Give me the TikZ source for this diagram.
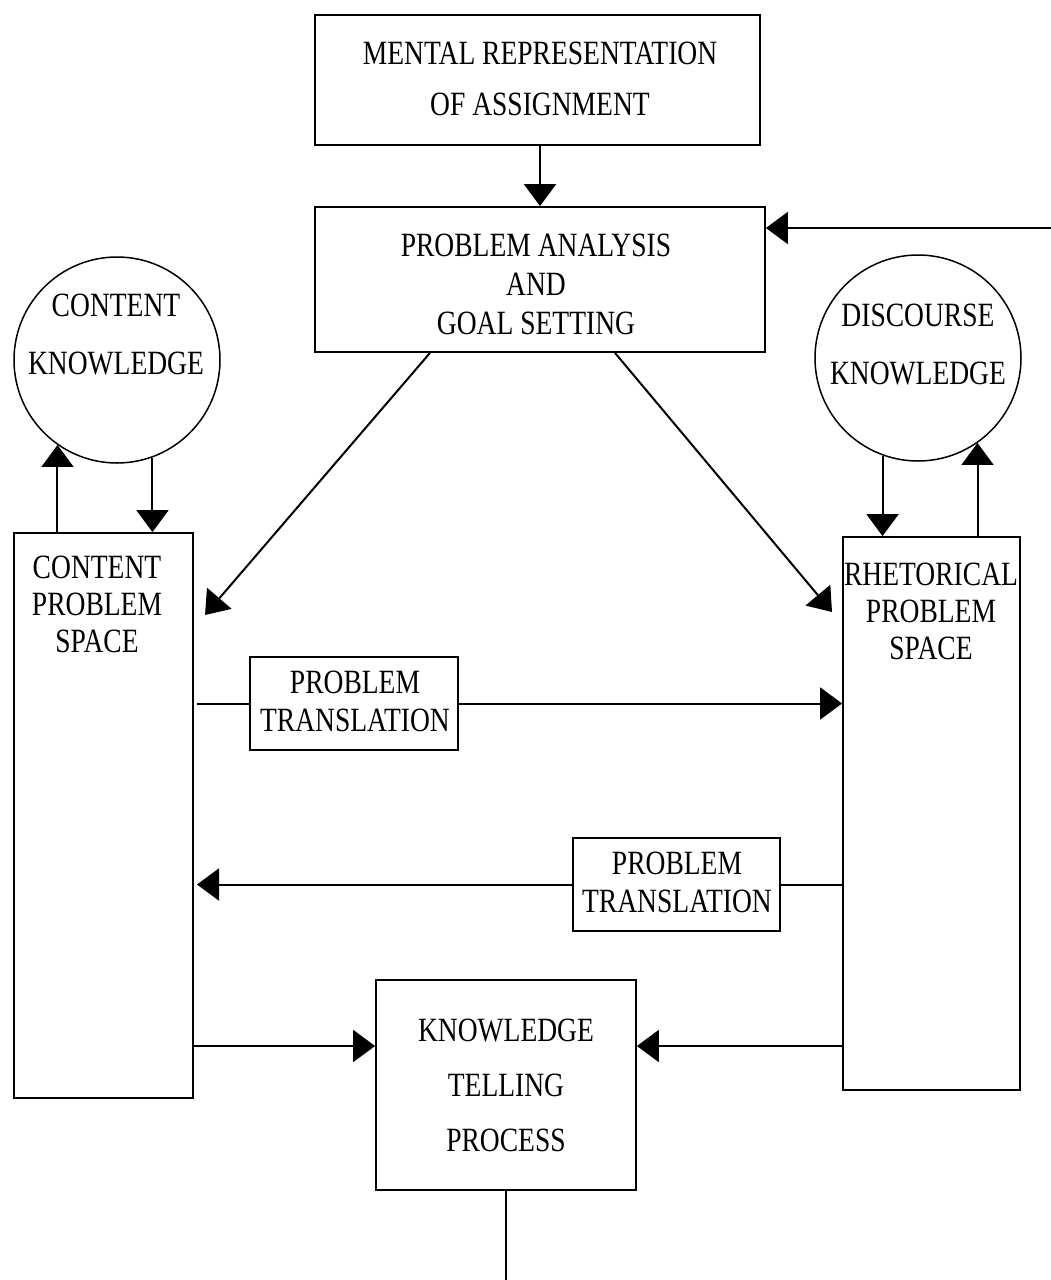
\documentclass[tikz,border=0pt]{standalone}
\usepackage{fontspec}
\setmainfont[FakeStretch=0.81]{Liberation Serif}
\usetikzlibrary{arrows.meta,calc}
\tikzset{
  box/.style={draw,line width=1.8pt,rectangle,inner sep=0pt},
  ring/.style={draw,line width=1.5pt,circle,inner sep=0pt,minimum size=206pt},
  txt/.style={align=center,inner sep=0pt},
  conn/.style={line width=2pt},
  arr/.style={conn,-{Triangle[width=32pt,length=22pt]}},
}
\begin{document}
\begin{tikzpicture}[x=1pt,y=-1pt,font=\fontsize{34}{38}\selectfont]
\useasboundingbox[fill=white] (0,0) rectangle (1051,1280);
% boxes
\node[box,minimum width=445pt,minimum height=130pt] (top) at (537.5,80) {};
\node[txt,font=\fontsize{34}{51}\selectfont] (toptxt) at (540,79) {MENTAL REPRESENTATION\\OF ASSIGNMENT};
\node[box,minimum width=450pt,minimum height=145pt] (pa) at (540,279.5) {};
\node[txt,font=\fontsize{34}{39}\selectfont] (patxt) at (536,284) {PROBLEM ANALYSIS\\AND\\GOAL SETTING};
\node[ring] (lcirc) at (117,360) {};
\node[txt,font=\fontsize{34}{58}\selectfont] (lctxt) at (116,334) {CONTENT\\KNOWLEDGE};
\node[ring] (rcirc) at (918,358) {};
\node[txt,font=\fontsize{34}{58}\selectfont] (rctxt) at (918,344) {DISCOURSE\\KNOWLEDGE};
\node[box,minimum width=179pt,minimum height=565pt] (lbox) at (103.5,815.5) {};
\node[txt,font=\fontsize{34}{37}\selectfont] (lbtxt) at (97,604) {CONTENT\\PROBLEM\\SPACE};
\node[box,minimum width=177pt,minimum height=553pt] (rbox) at (931.5,813.5) {};
\node[txt,font=\fontsize{34}{37}\selectfont] (rbtxt) at (931,611) {RHETORICAL\\PROBLEM\\SPACE};
\node[box,minimum width=208pt,minimum height=93pt] (pt1) at (354,703.5) {};
\node[txt] (pt1txt) at (355,701) {PROBLEM\\TRANSLATION};
\node[box,minimum width=207pt,minimum height=93pt] (pt2) at (676.5,884.5) {};
\node[txt] (pt2txt) at (677,882) {PROBLEM\\TRANSLATION};
\node[box,minimum width=260pt,minimum height=210pt] (kt) at (506,1085) {};
\node[txt,font=\fontsize{34}{55}\selectfont] (kttxt) at (506,1085) {KNOWLEDGE\\TELLING\\PROCESS};
% helper coordinates
\coordinate (fb) at (1051,228);
\coordinate (d1) at (205,615);
\coordinate (d2) at (832,612);
\coordinate (p1s) at (197,703.5);
\coordinate (p2e) at (197,884.5);
\coordinate (k1) at ([yshift=39pt]kt.west);
\coordinate (k2) at ([yshift=39pt]kt.east);
\coordinate (bot) at (506,1280);
% connectors
\draw[arr] (pa.north |- top.south) -- (pa.north);
\draw[arr] (fb) -- (fb -| pa.east);
\draw[arr] ([xshift=-110pt]pa.south) -- (d1);
\draw[arr] ([xshift=75pt]pa.south) -- (d2);
\draw[arr] (lbox.north -| lcirc.235) -- (lcirc.235);
\draw[arr] (lcirc.290) -- (lcirc.290 |- lbox.north);
\draw[arr] (rcirc.250) -- (rcirc.250 |- rbox.north);
\draw[arr] (rbox.north -| rcirc.305.6) -- (rcirc.305.6);
\draw[conn] (p1s) -- (pt1.west);
\draw[arr] (pt1.east) -- (pt1.east -| rbox.west);
\draw[conn] (pt2.east -| rbox.west) -- (pt2.east);
\draw[arr] (pt2.west) -- (p2e);
\draw[arr] (k1 -| lbox.east) -- (k1);
\draw[arr] (k2 -| rbox.west) -- (k2);
\draw[conn] (kt.south) -- (bot);
\end{tikzpicture}
\end{document}
